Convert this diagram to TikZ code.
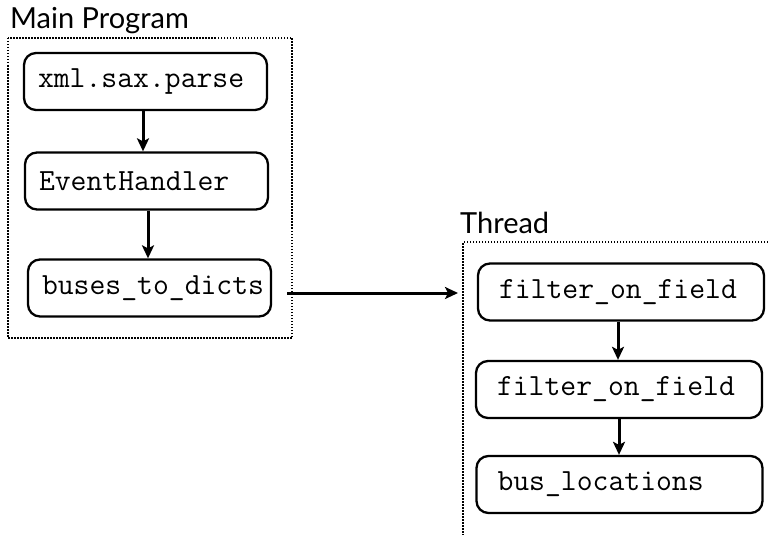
\documentclass[tikz,border=0pt]{standalone}
\usepackage{fontspec}
\setmainfont{Lato}
\usetikzlibrary{arrows.meta}
\tikzset{
  codebox/.style={draw, line width=2.3pt, rounded corners=12pt, minimum height=57pt,
    align=left, font=\ttfamily\fontsize{30.8}{32}\selectfont, anchor=center},
  mainbox/.style={codebox, inner xsep=14pt, text width=215pt},
  thrbox/.style={codebox, inner xsep=21pt, text width=244pt},
  arr/.style={line width=3pt, -{Stealth[length=13pt,width=12pt,inset=3pt]}},
  frame/.style={line width=1.8pt, dash pattern=on 1.5pt off 1.5pt},
  title/.style={font=\fontsize{29}{32}\selectfont, anchor=base west, inner sep=0pt}
}
\begin{document}
\begin{tikzpicture}[x=1pt,y=-1pt]
\useasboundingbox (0,0) rectangle (768,535);
% Main Program frame
\node[title] (mainlbl) at (10,29) {Main Program};
\draw[frame] (8,38) rectangle (292,338);
\node[mainbox] (xml) at (145.5,81.5) {xml.sax.parse};
\node[mainbox] (eh) at (146.5,181) {EventHandler};
\node[mainbox] (btd) at (149.5,288) {buses\_to\_dicts};
\draw[arr] ([xshift=-2.5pt]xml.south) -- ([xshift=-2.5pt]xml.south |- eh.north);
\draw[arr] ([xshift=1.5pt]eh.south) -- ([xshift=1.5pt]eh.south |- btd.north);
% Thread frame
\node[title] (thrlbl) at (460,233) {Thread};
\draw[frame] (780,242) -- (463,242) -- (463,545);
\node[thrbox] (f1) at (621,292) {filter\_on\_field};
\node[thrbox] (f2) at (619,389.5) {filter\_on\_field};
\node[thrbox] (bl) at (619.5,484.5) {bus\_locations};
\draw[arr] ([xshift=-3pt]f1.south) -- ([xshift=-3pt]f1.south |- f2.north);
\draw[arr] (f2.south) -- (f2.south |- bl.north);
% cross arrow
\coordinate (cstart) at (287,293);
\coordinate (cend) at (458,293);
\draw[arr] (cstart) -- (cend);
\end{tikzpicture}
\end{document}
